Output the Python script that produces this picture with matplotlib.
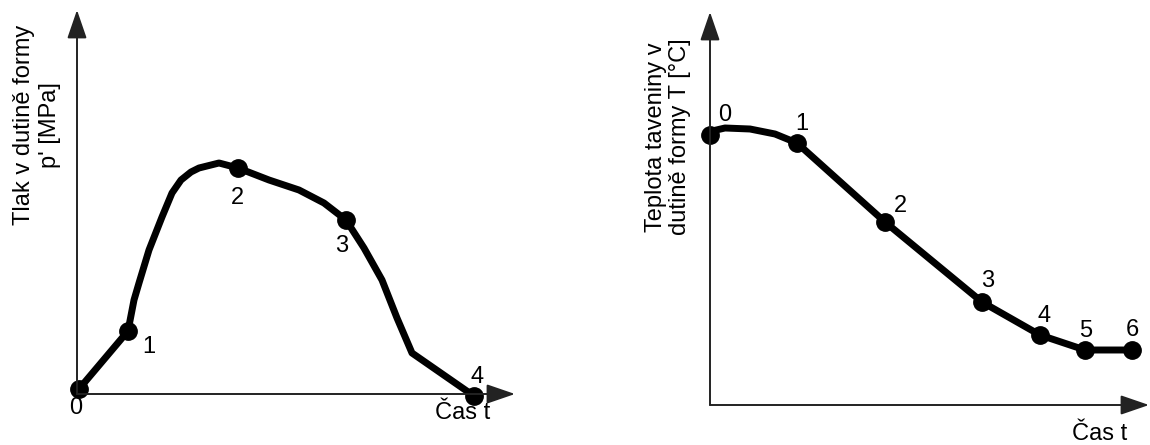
import matplotlib
matplotlib.use("Agg")
import matplotlib.pyplot as plt

plt.rcParams["font.family"] = ["Liberation Sans", "DejaVu Sans"]

# Levý graf - tlak v dutině formy (libovolné jednotky)
t_tlak = [2, 51, 57, 62, 72, 85, 95, 104, 114, 122, 142, 161, 192, 222, 247, 269, 287, 305, 320, 335, 397]
p_tlak = [5, 63, 94, 111, 144, 177, 201, 214, 222, 226, 231, 226, 214, 204, 191, 174, 146, 114, 76, 41, -2]
body_tlak = [0, 1, 11, 15, 20]
popisky_tlak = ["0", "1", "2", "3", "4"]

# Pravý graf - teplota taveniny v dutině formy
t_tepl = [0, 2, 15, 40, 65, 87, 175, 272, 330, 375, 422]
T_tepl = [270, 274, 277, 276, 271, 262, 183, 103, 70, 55, 55]
body_tepl = [0, 5, 6, 7, 8, 9, 10]
popisky_tepl = ["0", "1", "2", "3", "4", "5", "6"]

# posuny popisků bodů (v pixelech)
posun_tlak = [(-3, -19), (21, -16), (-1, -30), (-4, -26), (3, 19)]
posun_tepl = [(15, 20), (5, 19), (15, 16), (6, 21), (4, 19), (1, 19), (0, 20)]

W, H = 1150, 445
fig = plt.figure(figsize=(W / 100, H / 100), dpi=100)


def osy(x0, y0, x1, y1):
    # x0,y0 = počátek v pixelech, x1 = konec osy x, y1 = konec osy y
    ax = fig.add_axes([x0 / W, 1 - y0 / H, (x1 - x0) / W, (y0 - y1) / H])
    ax.set_xlim(0, x1 - x0)
    ax.set_ylim(0, y0 - y1)
    ax.axis("off")
    sipka = dict(arrowstyle="-|>,head_length=1.6,head_width=0.55", mutation_scale=11,
                 lw=1.4, color="#222222", shrinkA=0, shrinkB=0)
    ax.annotate("", xy=(1, 0), xytext=(0, 0), xycoords="axes fraction", arrowprops=sipka)
    ax.annotate("", xy=(0, 1), xytext=(0, 0), xycoords="axes fraction", arrowprops=sipka)
    return ax


def krivka(ax, t, y, body, popisky, posuny):
    ax.plot(t, y, color="black", lw=5, solid_joinstyle="round", solid_capstyle="round",
            clip_on=False)
    ax.plot([t[i] for i in body], [y[i] for i in body], "o", color="black", ms=12.5,
            clip_on=False)
    for i, lab, (dx, dy) in zip(body, popisky, posuny):
        ax.annotate(lab, (t[i], y[i]), xytext=(dx, dy), textcoords="offset pixels",
                    ha="center", va="center", fontsize=17, annotation_clip=False)


ax1 = osy(77, 394, 515, 10)
krivka(ax1, t_tlak, p_tlak, body_tlak, popisky_tlak, posun_tlak)

ax2 = osy(710, 405, 1149, 12)
krivka(ax2, t_tepl, T_tepl, body_tepl, popisky_tepl, posun_tepl)

fig.text(37 / W, 1 - 125 / H, "Tlak v dutině formy\np' [MPa]", rotation=90,
         ha="center", va="center", fontsize=17, linespacing=1.2, multialignment="center")
fig.text(668 / W, 1 - 137 / H, "Teplota taveniny v\ndutině formy T [°C]", rotation=90,
         ha="center", va="center", fontsize=17, linespacing=1.1, multialignment="center")
fig.text(463 / W, 1 - 413 / H, "Čas t", ha="center", va="center", fontsize=17)
fig.text(1100 / W, 1 - 434 / H, "Čas t", ha="center", va="center", fontsize=17)

fig.savefig("out.png", dpi=100)
